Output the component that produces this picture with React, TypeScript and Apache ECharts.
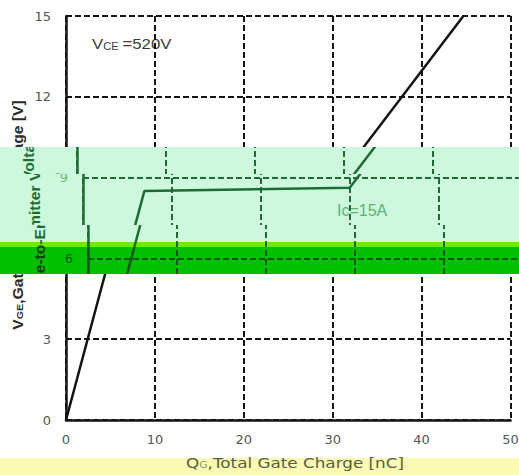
import React, { useEffect, useRef } from "react";
import * as echarts from "echarts";

// Gate charge curve: total gate charge (nC) vs gate-emitter voltage (V)
const gateCharge = [0, 6.9, 30, 44.7];
const gateVoltage = [0, 8.5, 8.62, 15];

// Axis tick values
const xTicks = [0, 10, 20, 30, 40, 50];
const yTicks = [0, 3, 6, 9, 12, 15];

// Annotation texts
const conditionText = "{v|V}{s|CE} {v|=520V}";
const currentText = "Ic=15A";
const yTitle = "{v|V}{s|GE}{v|,Gate-to-Emitter Voltage [V]}";
const xTitle = "{v|Q}{s|G}{v|,Total Gate Charge [nC]}";

const W = 519;
const H = 475;
const GRID = { left: 66, right: 8.5, top: 16, bottom: 55 };

type Theme = {
  bg: string;
  fg: string;
  tick: string;
  title: string;
  note: string;
};

type Band = { y0: number; y1: number; dx: number; theme: Theme };

const plain: Theme = { bg: "transparent", fg: "#141414", tick: "#555555", title: "#2b2b2b", note: "#3c3c3c" };
const mint: Theme = { bg: "#cdf8dd", fg: "#1d6c34", tick: "#6cbb80", title: "#1d6c34", note: "#5db274" };
const lime: Theme = { bg: "#72e80a", fg: "#1d6c1c", tick: "#2f8a1c", title: "#1d5c14", note: "#3a9a20" };
const green: Theme = { bg: "#00c000", fg: "#005a10", tick: "#005a10", title: "#083c10", note: "#006a10" };

// Horizontal bands drawn from a displaced, tinted copy of the plot
const bands: Band[] = [
  { y0: 147, y1: 174, dx: 11, theme: mint },
  { y0: 174, y1: 225, dx: 16.5, theme: mint },
  { y0: 225, y1: 241.5, dx: 21.5, theme: mint },
  { y0: 241.5, y1: 247.3, dx: 21.5, theme: lime },
  { y0: 247.3, y1: 274, dx: 21.5, theme: green },
];
const bandTop = bands[0].y0;
const bandBottom = bands[bands.length - 1].y1;

// Whether a text spanning [yc - half, yc + half] shows in a layer
function shows(yc: number, half: number, band: Band | null): boolean {
  const a = yc - half;
  const b = yc + half;
  if (!band) return !(a >= bandTop && b <= bandBottom);
  return b > band.y0 && a < band.y1;
}

function yPixel(v: number): number {
  const y0 = yTicks[0];
  const y1 = yTicks[yTicks.length - 1];
  const plotH = H - GRID.top - GRID.bottom;
  return GRID.top + ((y1 - v) / (y1 - y0)) * plotH;
}

function makeOption(band: Band | null): any {
  const t = band ? band.theme : plain;
  const dash = { color: t.fg, width: 2, type: [6, 3] };
  const graphic: any[] = [];
  if (shows(44, 9, band)) {
    graphic.push({
      type: "text",
      x: 92,
      y: 44,
      scaleX: 1.12,
      style: {
        text: conditionText,
        verticalAlign: "middle",
        fill: t.note,
        rich: {
          v: { fontSize: 15, fontFamily: "Liberation Sans", fill: t.note },
          s: { fontSize: 10, fontFamily: "Liberation Sans", fill: t.note, padding: [4, 0, 0, 0] },
        },
      },
    });
  }
  if (shows(210, 9, band)) {
    graphic.push({
      type: "text",
      x: 320,
      y: 210,
      style: {
        text: currentText,
        verticalAlign: "middle",
        fill: t.note,
        fontSize: 16,
        fontFamily: "Liberation Sans",
      },
    });
  }
  graphic.push({
    type: "text",
    x: 18,
    y: 215,
    rotation: Math.PI / 2,
    scaleX: 1.12,
    style: {
      text: yTitle,
      align: "center",
      verticalAlign: "middle",
      fill: t.title,
      rich: {
        v: { fontSize: 14, fontWeight: "bold", fontFamily: "Liberation Sans", fill: t.title },
        s: { fontSize: 9.5, fontWeight: "bold", fontFamily: "Liberation Sans", fill: t.title, padding: [4, 0, 0, 0] },
      },
    },
  });
  if (!band) {
    graphic.push({
      type: "text",
      x: 295,
      y: 463,
      scaleX: 1.2,
      style: {
        text: xTitle,
        align: "center",
        verticalAlign: "middle",
        fill: "#56603a",
        rich: {
          v: { fontSize: 14, fontFamily: "DejaVu Sans", fill: "#56603a" },
          s: { fontSize: 9, fontFamily: "DejaVu Sans", fill: "#8a9070", padding: [4, 0, 0, 0] },
        },
      },
    });
  }

  return {
    animation: false,
    backgroundColor: t.bg,
    grid: { ...GRID, outerBoundsMode: "none" },
    xAxis: {
      type: "value",
      min: xTicks[0],
      max: xTicks[xTicks.length - 1],
      interval: xTicks[1] - xTicks[0],
      axisLine: { show: true, onZero: false, lineStyle: { color: t.fg, width: 2.5 } },
      axisTick: { show: false },
      axisLabel: { show: !band, color: t.tick, fontSize: 13, fontFamily: "DejaVu Sans", margin: 13 },
      splitLine: { show: true, lineStyle: dash },
    },
    yAxis: {
      type: "value",
      min: yTicks[0],
      max: yTicks[yTicks.length - 1],
      interval: yTicks[1] - yTicks[0],
      axisLine: { show: true, onZero: false, lineStyle: { color: t.fg, width: 2.5 } },
      axisTick: { show: false },
      axisLabel: {
        color: t.tick,
        fontSize: 13,
        fontFamily: "DejaVu Sans",
        margin: 15,
        formatter: (v: number) => (shows(yPixel(v), 7, band) ? String(v) : ""),
      },
      splitLine: { show: true, lineStyle: dash },
    },
    series: [
      {
        type: "line",
        data: gateCharge.map((q, i) => [q, gateVoltage[i]]),
        showSymbol: false,
        silent: true,
        lineStyle: { color: t.fg, width: 2.5 },
        z: 5,
      },
    ],
    graphic,
  };
}

export default function App() {
  const mainRef = useRef<HTMLDivElement | null>(null);
  const bandRefs = useRef<(HTMLDivElement | null)[]>([]);

  useEffect(() => {
    document.body.style.margin = "0";
    const charts: echarts.ECharts[] = [];
    if (mainRef.current) {
      const c = echarts.init(mainRef.current, undefined, { renderer: "svg" });
      c.setOption(makeOption(null));
      charts.push(c);
    }
    bands.forEach((b, i) => {
      const el = bandRefs.current[i];
      if (!el) return;
      const c = echarts.init(el, undefined, { renderer: "svg" });
      c.setOption(makeOption(b));
      charts.push(c);
    });
    return () => charts.forEach((c) => c.dispose());
  }, []);

  return (
    <div style={{ position: "fixed", left: 0, top: 0, width: W, height: H, background: "#ffffff", overflow: "hidden" }}>
      <div style={{ position: "absolute", left: 0, top: 458, width: W, height: H - 458, background: "#fafab4" }} />
      <div ref={mainRef} style={{ position: "absolute", left: 0, top: 0, width: W, height: H }} />
      {bands.map((b, i) => (
        <div
          key={i}
          style={{
            position: "absolute",
            left: 0,
            top: b.y0,
            width: W,
            height: b.y1 - b.y0,
            overflow: "hidden",
            background: b.theme.bg,
          }}
        >
          <div
            ref={(el) => {
              bandRefs.current[i] = el;
            }}
            style={{ position: "absolute", left: b.dx, top: -b.y0, width: W, height: H }}
          />
        </div>
      ))}
    </div>
  );
}
